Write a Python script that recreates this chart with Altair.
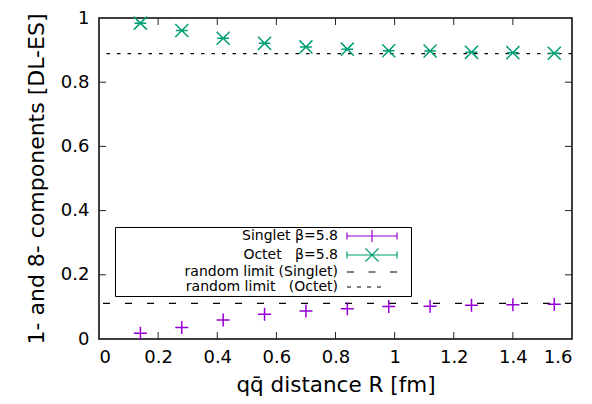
import altair as alt
import pandas as pd

# ---- data ----
R_FM = [0.14, 0.28, 0.42, 0.56, 0.70, 0.84, 0.98, 1.12, 1.26, 1.40, 1.54]
SINGLET = [0.018, 0.036, 0.059, 0.077, 0.087, 0.094, 0.101, 0.102, 0.105, 0.107, 0.108]
OCTET = [0.984, 0.961, 0.937, 0.921, 0.910, 0.903, 0.898, 0.897, 0.893, 0.892, 0.890]
RANDOM_LIMITS = [1 / 9, 8 / 9]  # singlet, octet
SERIES = ["Singlet", "Octet"]
LEGEND_LABELS = [
    "Singlet β=5.8",
    "Octet\u00a0\u00a0\u00a0β=5.8",
    "random limit (Singlet)",
    "random limit\u00a0\u00a0\u00a0(Octet)",
]
X_TICKS = [0, 0.2, 0.4, 0.6, 0.8, 1.0, 1.2, 1.4, 1.6]
Y_TICKS = [0, 0.2, 0.4, 0.6, 0.8, 1.0]

# ---- styles ----
PURPLE = "#9400d3"
GREEN = "#009e73"
FONT = "DejaVu Sans"
PLUS = "M-1,0H1M0,-1V1"
CROSS = "M-1,-1L1,1M-1,1L1,-1M-0.9,0H0.9"
# legend samples (drawn at scale 5 px per unit, i.e. 50 px wide)
LEG_PLUS = "M-5,0H5M-5,-0.7V0.7M5,-0.7V0.7M0,-1.2V1.2"
LEG_CROSS = "M-5,0H5M-5,-0.7V0.7M5,-0.7V0.7M-1.3,-1.3L1.3,1.3M-1.3,1.3L1.3,-1.3"
LEG_DASH = "M-5,0H-3.6M-0.7,0H0.7M3.6,0H5M6.8,0"
LEG_DOT = "M-5,0H-4.2M-3,0H-2.2M-1,0H-0.2M1,0H1.8"

W, H = 473, 321
XMAX, YMAX = 1.6, 1.0
TLX = 7 / W * XMAX  # tick length in x data units
TLY = 7 / H * YMAX  # tick length in y data units

pts = pd.DataFrame(
    {
        "R": R_FM * 2,
        "v": SINGLET + OCTET,
        "series": [SERIES[0]] * len(R_FM) + [SERIES[1]] * len(R_FM),
    }
)
leg = pd.DataFrame({"entry": LEGEND_LABELS, "R": [None] * 4, "v": [None] * 4})

inner_x = X_TICKS[1:-1]
inner_y = Y_TICKS[1:-1]
ticks = pd.DataFrame(
    [{"x": t, "x2": t, "y": 0, "y2": TLY} for t in inner_x]
    + [{"x": t, "x2": t, "y": YMAX - TLY, "y2": YMAX} for t in inner_x]
    + [{"x": 0, "x2": TLX, "y": t, "y2": t} for t in inner_y]
    + [{"x": XMAX - TLX, "x2": XMAX, "y": t, "y2": t} for t in inner_y]
)

xscale = alt.Scale(domain=[0, XMAX], nice=False, zero=False)
yscale = alt.Scale(domain=[0, YMAX], nice=False, zero=False)

xaxis = alt.Axis(
    values=X_TICKS, format="~g", ticks=False, domain=False, grid=False,
    labelFont=FONT, labelFontSize=18, labelColor="black", labelPadding=9,
    title="qq\u0304 distance R [fm]", titleFont=FONT, titleFontSize=21.5,
    titleFontWeight="normal", titleColor="black", titlePadding=8,
)
yaxis = alt.Axis(
    values=Y_TICKS, format="~g", ticks=False, domain=False, grid=False,
    labelFont=FONT, labelFontSize=18, labelColor="black", labelPadding=10,
    title="1- and 8- components [DL-ES]", titleFont=FONT, titleFontSize=22,
    titleFontWeight="normal", titleColor="black", titlePadding=12,
)

tick_layer = alt.Chart(ticks).mark_rule(color="#222", strokeWidth=1).encode(
    x=alt.X("x:Q", scale=xscale, axis=xaxis),
    x2="x2:Q",
    y=alt.Y("y:Q", scale=yscale, axis=yaxis),
    y2="y2:Q",
)

lim_s = alt.Chart().mark_rule(color="black", strokeWidth=1.1, strokeDash=[7, 15]).encode(
    y=alt.datum(RANDOM_LIMITS[0], scale=yscale)
)
lim_o = alt.Chart().mark_rule(color="black", strokeWidth=1.1, strokeDash=[3.5, 7]).encode(
    y=alt.datum(RANDOM_LIMITS[1], scale=yscale)
)

points = alt.Chart(pts).mark_point(filled=False, strokeWidth=1.5, size=170, opacity=1).encode(
    x=alt.X("R:Q", scale=xscale),
    y=alt.Y("v:Q", scale=yscale),
    color=alt.Color("series:N", scale=alt.Scale(domain=SERIES, range=[PURPLE, GREEN]), legend=None),
    shape=alt.Shape("series:N", scale=alt.Scale(domain=SERIES, range=[PLUS, CROSS]), legend=None),
)


def make_legend():
    return alt.Legend(
        title=None, orient="none", legendX=16, legendY=209,
        symbolSize=100, rowPadding=1, padding=2,
        labelFont=FONT, labelFontSize=14, labelColor="black",
        labelAlign="right", labelOffset={"expr": "-41"}, labelLimit=400,
        symbolOffset=248, symbolStrokeWidth=1.2,
        strokeColor="black",
    )


legend_layer = alt.Chart(leg).mark_point(filled=False, strokeWidth=1.2, opacity=1).encode(
    x=alt.X("R:Q", scale=xscale),
    y=alt.Y("v:Q", scale=yscale),
    color=alt.Color(
        "entry:N",
        scale=alt.Scale(domain=LEGEND_LABELS, range=[PURPLE, GREEN, "black", "black"]),
        legend=make_legend(),
    ),
    shape=alt.Shape(
        "entry:N",
        scale=alt.Scale(domain=LEGEND_LABELS, range=[LEG_PLUS, LEG_CROSS, LEG_DASH, LEG_DOT]),
        legend=make_legend(),
    ),
)

chart = (
    alt.layer(tick_layer, lim_s, lim_o, points, legend_layer)
    .resolve_scale(color="independent", shape="independent")
    .properties(
        width=W, height=H,
        autosize=alt.AutoSizeParams(type="none"),
        padding={"left": 91, "top": 10, "right": 12, "bottom": 57},
        background="white",
    )
    .configure_view(stroke="black", strokeWidth=1.5)
)

chart.save("out.html", embed_options={"renderer": "svg", "actions": False})
